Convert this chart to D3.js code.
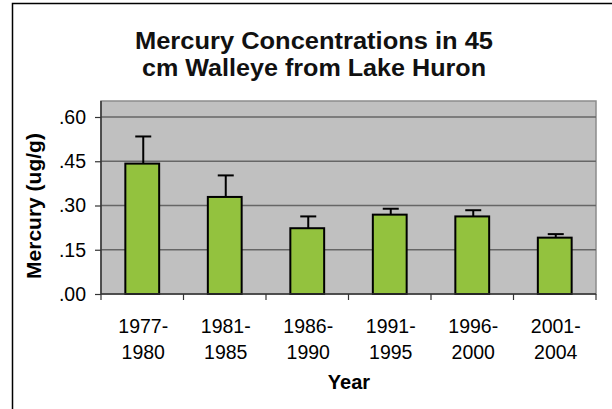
<!DOCTYPE html>
<html>
<head>
<meta charset="utf-8">
<script src="https://cdn.jsdelivr.net/npm/d3@7"></script>
<style>
  body { margin: 0; background: #fff; }
  text { font-family: "Liberation Sans", Arial, sans-serif; }
</style>
</head>
<body>
<div id="chart"></div>
<script>
var width = 612
var height = 409

// data
var periods = ['1977-1980', '1981-1985', '1986-1990', '1991-1995', '1996-2000', '2001-2004'];
var mercury = [0.442, 0.329, 0.223, 0.269, 0.263, 0.191];
var upper = [0.534, 0.402, 0.263, 0.289, 0.284, 0.203];
var yTicks = [0, 0.15, 0.30, 0.45, 0.60];
var titleLines = ['Mercury Concentrations in 45', 'cm Walleye from Lake Huron'];

var plot = { left: 101, right: 596, top: 101, bottom: 294 };

var svg = d3.select('#chart')
            .append('svg')
            .attr('width', width)
            .attr('height', height);

// outer frame (top and left only visible)
svg.append('path')
   .attr('d', 'M12.5,' + height + 'V3.5H' + width)
   .attr('fill', 'none')
   .attr('stroke', '#000')
   .attr('stroke-width', 1.5);

var x = d3.scaleBand()
          .domain(periods)
          .range([plot.left, plot.right])
          .paddingInner(0)
          .paddingOuter(0);

var y = d3.scaleLinear()
          .domain([0, 0.6])
          .range([plot.bottom, 117]);

// plot area
svg.append('rect')
   .attr('x', plot.left)
   .attr('y', plot.top)
   .attr('width', plot.right - plot.left)
   .attr('height', plot.bottom - plot.top)
   .attr('fill', '#c0c0c0')
   .attr('stroke', '#8c8c8c')
   .attr('stroke-width', 1.5);

// gridlines
svg.selectAll('.grid')
   .data(yTicks.slice(1))
   .enter().append('line')
   .attr('class', 'grid')
   .attr('x1', plot.left)
   .attr('x2', plot.right)
   .attr('y1', function(d){ return y(d); })
   .attr('y2', function(d){ return y(d); })
   .attr('stroke', '#666')
   .attr('stroke-width', 1.5);

// y axis
var yAxis = d3.axisLeft(y)
              .tickValues(yTicks)
              .tickSize(6)
              .tickPadding(9)
              .tickFormat(function(d){ return d3.format('.2f')(d).replace(/^0/, ''); });

var gy = svg.append('g')
            .attr('transform', 'translate(' + plot.left + ',0)')
            .call(yAxis);
gy.select('.domain').attr('stroke', '#333').attr('stroke-width', 1.5)
  .attr('d', 'M0,' + plot.top + 'V' + plot.bottom);
gy.selectAll('.tick line').attr('stroke', '#333').attr('stroke-width', 1.2);
gy.selectAll('.tick text')
  .style('font-family', '"Liberation Sans", Arial, sans-serif')
  .style('font-size', '19.5px')
  .attr('fill', '#000');

// bars
svg.selectAll('.bar')
   .data(mercury)
   .enter().append('rect')
   .attr('class', 'bar')
   .attr('x', function(d, i){ return x(periods[i]) + x.bandwidth() * 0.295; })
   .attr('width', x.bandwidth() * 0.41)
   .attr('y', function(d){ return y(d); })
   .attr('height', function(d){ return y(0) - y(d); })
   .attr('fill', '#93c23e')
   .attr('stroke', '#000')
   .attr('stroke-width', 2);

// error bars
var err = svg.selectAll('.err')
             .data(upper)
             .enter().append('g')
             .attr('class', 'err')
             .attr('stroke', '#000')
             .attr('stroke-width', 2);
err.append('line')
   .attr('x1', function(d, i){ return x(periods[i]) + x.bandwidth() / 2 + 1; })
   .attr('x2', function(d, i){ return x(periods[i]) + x.bandwidth() / 2 + 1; })
   .attr('y1', function(d){ return y(d); })
   .attr('y2', function(d, i){ return y(mercury[i]); });
err.append('line')
   .attr('x1', function(d, i){ return x(periods[i]) + x.bandwidth() / 2 + 1 - 8; })
   .attr('x2', function(d, i){ return x(periods[i]) + x.bandwidth() / 2 + 1 + 8; })
   .attr('y1', function(d){ return y(d); })
   .attr('y2', function(d){ return y(d); });

// x axis
var xAxis = d3.axisBottom(x).tickSize(0).tickFormat('');
var gx = svg.append('g')
            .attr('transform', 'translate(0,' + plot.bottom + ')')
            .call(xAxis);
gx.select('.domain').attr('stroke', '#333').attr('stroke-width', 1.5)
  .attr('d', 'M' + plot.left + ',0H' + plot.right);

var bounds = periods.map(function(p){ return x(p); }).concat([plot.right]);
svg.selectAll('.xtick')
   .data(bounds)
   .enter().append('line')
   .attr('class', 'xtick')
   .attr('x1', function(d){ return d; })
   .attr('x2', function(d){ return d; })
   .attr('y1', plot.bottom)
   .attr('y2', plot.bottom + 6)
   .attr('stroke', '#333')
   .attr('stroke-width', 1.2);

var labels = svg.selectAll('.xlabel')
                .data(periods)
                .enter().append('text')
                .attr('class', 'xlabel')
                .attr('text-anchor', 'middle')
                .attr('font-size', '19.5px')
                .attr('x', function(d){ return x(d) + x.bandwidth() / 2 + 1; });
labels.append('tspan')
      .attr('x', function(d){ return x(d) + x.bandwidth() / 2 + 1; })
      .attr('y', 333)
      .text(function(d){ return d.split('-')[0] + '-'; });
labels.append('tspan')
      .attr('x', function(d){ return x(d) + x.bandwidth() / 2 + 1; })
      .attr('y', 359)
      .text(function(d){ return d.split('-')[1]; });

// axis titles
svg.append('text')
   .attr('x', 349)
   .attr('y', 389)
   .attr('text-anchor', 'middle')
   .attr('font-weight', 'bold')
   .attr('font-size', '20px')
   .text('Year');

svg.append('text')
   .attr('transform', 'translate(41,206) rotate(-90)')
   .attr('text-anchor', 'middle')
   .attr('font-weight', 'bold')
   .attr('font-size', '21px')
   .text('Mercury (ug/g)');

// title, stretched a little to the reference's width
var titleWidths = [358, 344];
svg.selectAll('.title')
   .data(titleLines)
   .enter().append('text')
   .attr('class', 'title')
   .attr('x', 314)
   .attr('y', function(d, i){ return 49 + i * 27; })
   .attr('text-anchor', 'middle')
   .attr('font-weight', 'bold')
   .attr('font-size', '23px')
   .attr('fill', '#111')
   .attr('textLength', function(d, i){ return titleWidths[i]; })
   .attr('lengthAdjust', 'spacingAndGlyphs')
   .text(function(d){ return d; });
</script>
</body>
</html>
